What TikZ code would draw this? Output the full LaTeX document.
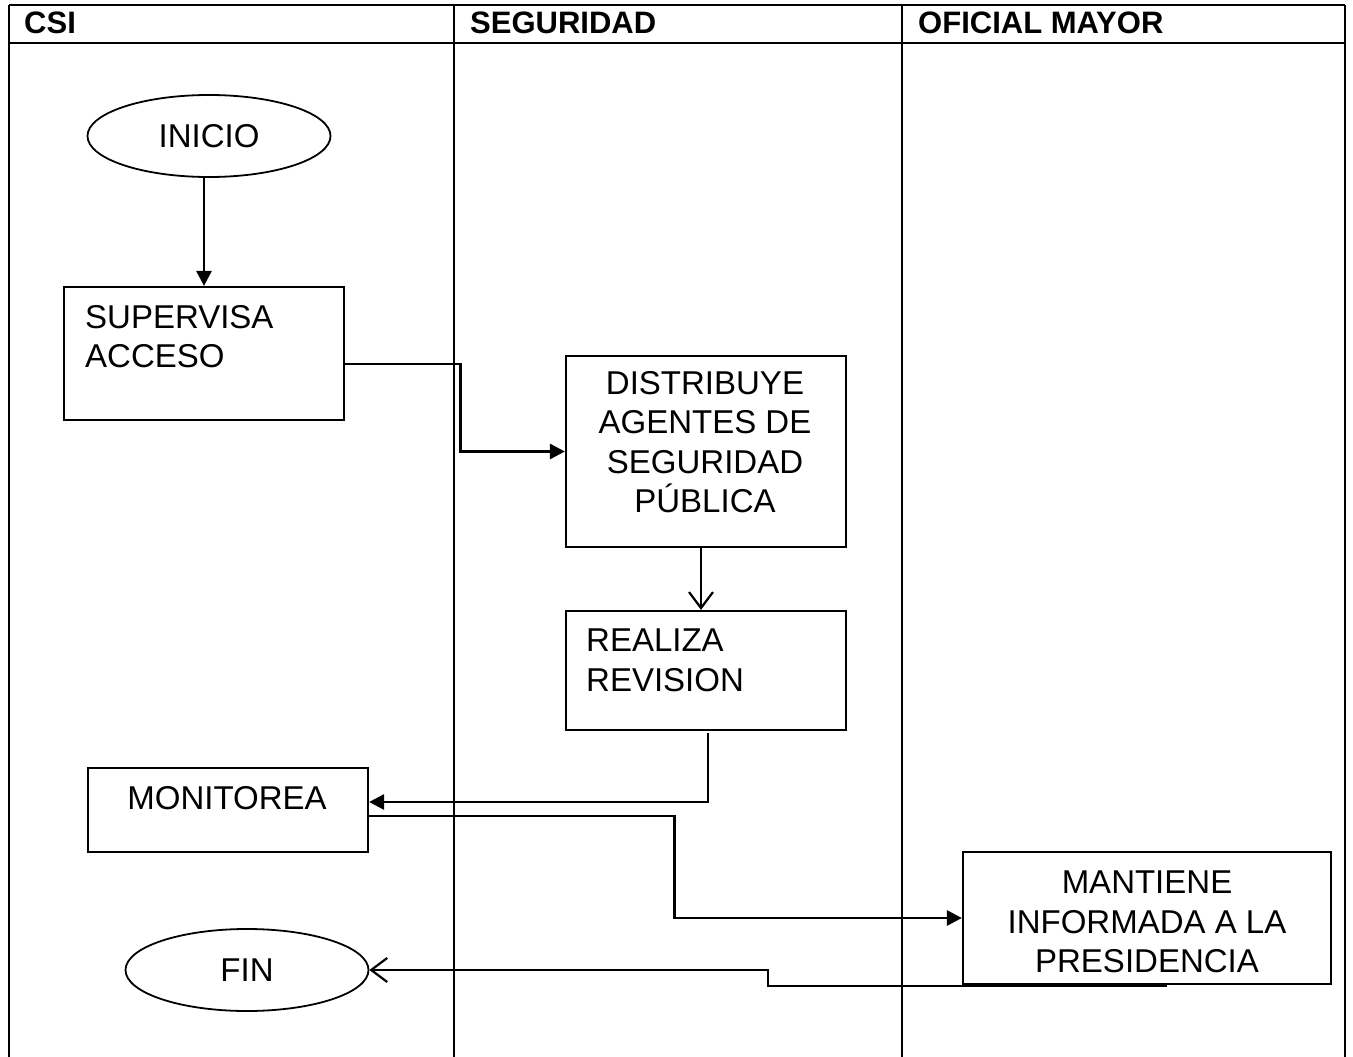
\documentclass[tikz,border=0pt]{standalone}
\usepackage{fontspec}
\setmainfont{Liberation Sans}
\usetikzlibrary{shapes.geometric,arrows.meta}

\begin{document}
\begin{tikzpicture}
  [x=1pt,y=-1pt,
   every node/.style={font=\fontsize{33}{39.5}\selectfont,inner sep=0pt},
   caja/.style={draw,line width=2.2pt,minimum width=280},
   elipse/.style={ellipse,draw,line width=1.8pt,minimum width=243,minimum height=82},
   titulo/.style={anchor=base west,font=\bfseries\fontsize{31}{36}\selectfont},
   flecha/.style={line width=2.8pt,-{Triangle[length=15pt,width=15pt]}},
   abierta/.style={line width=2.2pt,-{Straight Barb[length=16pt,width=24pt]}}]
  \useasboundingbox (0,0) rectangle (1353,1057);

  % carriles
  \draw[line width=1.2pt] (9,5) -- (1345,5) (9,43) -- (1345,43);
  \foreach \x in {9,454,902,1345}
    \draw[line width=1.2pt] (\x,5) -- (\x,1057);
  \node[titulo] (h1) at (24,34) {CSI};
  \node[titulo] (h2) at (470,34) {SEGURIDAD};
  \node[titulo] (h3) at (918,34) {OFICIAL MAYOR};

  % pasos
  \node[elipse] (ini) at (209,136) {INICIO};
  \node[caja,minimum height=133] (sup) at (204,353.5) {};
  \node[caja,minimum height=191] (dis) at (706,451.5) {};
  \node[caja,minimum height=119] (rea) at (706,670.5) {};
  \node[caja,minimum height=84] (mon) at (228,810) {};
  \node[caja,minimum width=368,minimum height=132] (man) at (1147,918) {};
  \node[elipse] (fin) at (247,970) {FIN};

  \node[anchor=north west,align=left] (tsup) at (85,305) {SUPERVISA\\ACCESO};
  \node[anchor=north,align=center] (tdis) at (705,371) {DISTRIBUYE\\AGENTES DE\\SEGURIDAD\\PÚBLICA};
  \node[anchor=north west,align=left] (trea) at (586,629) {REALIZA\\REVISION};
  \node[anchor=north] (tmon) at (227,786) {MONITOREA};
  \node[anchor=north,align=center] (tman) at (1147,871) {MANTIENE\\INFORMADA A LA\\PRESIDENCIA};

  % conectores
  \draw[flecha] (ini.south -| sup.north) -- (sup.north);
  \draw[flecha] ([yshift=-10.5pt]sup.east) -- ++(115,0) |- (dis.west);
  \draw[abierta] ([xshift=-5pt]dis.south) -- ([xshift=-5pt]rea.north);
  \draw[flecha] ([xshift=2pt,yshift=-2pt]rea.south) |- ([yshift=8pt]mon.east);
  \draw[flecha] ([yshift=-6pt]mon.east) -- ++(305,0) |- (man.west);
  \draw[abierta] ([xshift=20pt,yshift=-1pt]man.south) -- ++(-399,0) |- (fin.east);

\end{tikzpicture}
\end{document}
